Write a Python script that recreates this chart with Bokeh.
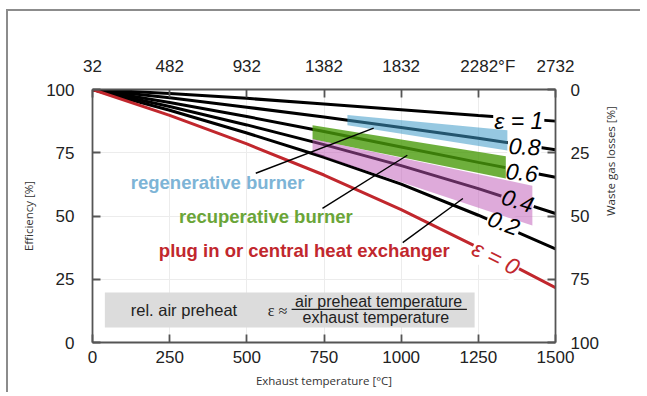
import math
from bokeh.plotting import figure
from bokeh.models import (Range1d, LinearAxis, FixedTicker, ColumnDataSource)
from bokeh.embed import file_html
from bokeh.resources import INLINE
from bokeh.core.properties import value

# ---------------- data ----------------
temp_c = [0, 250, 500, 750, 1000, 1250, 1500]
eff_eps_10 = [100, 98.4, 96.5, 94.3, 92.0, 89.7, 87.5]
eff_eps_08 = [100, 96.7, 93.0, 89.1, 85.0, 80.7, 76.2]
eff_eps_06 = [100, 94.9, 89.3, 83.4, 77.3, 71.2, 65.3]
eff_eps_04 = [100, 93.3, 86.0, 78.2, 69.9, 60.8, 51.0]
eff_eps_02 = [100, 91.8, 82.8, 73.2, 62.6, 50.3, 37.0]
eff_eps_00 = [100, 89.8, 78.5, 66.2, 52.5, 37.5, 21.7]

curve_labels = ["ε = 1", "0.8", "0.6", "0.4", "0.2", "ε = 0"]
curve_label_x = [1381, 1400, 1391, 1378, 1333, 1307]
curve_label_y = [87.5, 77.6, 67.3, 56.2, 47.4, 33.5]
curve_label_angle = [0.0, -0.06, -0.1, -0.3, -0.35, -0.46]

# burner ranges (bands)
band_names = ["regenerative burner", "recuperative burner",
              "plug in or central heat exchanger"]
band_x0 = [826, 713, 713]
band_x1 = [1344, 1339, 1425]
band_top0 = [89.9, 85.9, 80.4]
band_bot0 = [85.9, 80.3, 75.0]
band_top1 = [83.9, 73.6, 62.0]
band_bot1 = [75.9, 64.8, 46.2]

xticks_c = [0, 250, 500, 750, 1000, 1250, 1500]
xticks_f = [32, 482, 932, 1382, 1832, 2282, 2732]
yticks = [0, 25, 50, 75, 100]

# ---------------- figure ----------------
p = figure(width=634, height=383, x_range=Range1d(0, 1500), y_range=Range1d(0, 100),
           output_backend="svg", toolbar_location=None,
           min_border_left=84, min_border_right=87, min_border_top=78,
           min_border_bottom=52)
p.styles = {"margin-left": "6px", "margin-top": "9px",
            "border-top": "2px solid #8c8c8c", "border-left": "2px solid #8c8c8c"}
p.outline_line_color = None
p.background_fill_color = "white"
p.extra_x_ranges = {"f": Range1d(32, 2732)}
p.extra_y_ranges = {"w": Range1d(100, 0)}

bottom_axis = p.xaxis[0]
left_axis = p.yaxis[0]
bottom_axis.ticker = FixedTicker(ticks=xticks_c)
left_axis.ticker = FixedTicker(ticks=yticks)
bottom_axis.axis_label = "Exhaust temperature [°C]"
left_axis.axis_label = "Efficiency [%]"
p.xgrid.ticker = FixedTicker(ticks=xticks_c)
p.ygrid.ticker = FixedTicker(ticks=yticks)
p.grid.grid_line_color = "#ececec"

top_axis = LinearAxis(x_range_name="f", ticker=FixedTicker(ticks=xticks_f))
top_axis.major_label_overrides = {2282: "\u2007\u20072282°F"}
right_axis = LinearAxis(y_range_name="w", ticker=FixedTicker(ticks=yticks),
                        axis_label="Waste gas losses [%]")
if "axis_label_orientation" in right_axis.properties():
    right_axis.axis_label_orientation = math.pi / 2
p.add_layout(top_axis, "above")
p.add_layout(right_axis, "right")

for ax in [bottom_axis, left_axis, top_axis, right_axis]:
    ax.major_tick_in = 8
    ax.major_tick_out = 0
    ax.minor_tick_line_color = None
    ax.axis_line_color = "#555555"
    ax.axis_line_width = 1.8
    ax.major_tick_line_color = "#555555"
    ax.major_tick_line_width = 1.8
    ax.major_label_text_font = "Liberation Sans"
    ax.major_label_text_font_size = "17px"
    ax.major_label_text_color = "#222222"
    ax.axis_label_text_font = "Open Sans"
    ax.axis_label_text_font_size = "11.5px"
    ax.axis_label_text_font_style = "normal"
    ax.axis_label_text_color = "#333333"

left_axis.major_label_standoff = 18
left_axis.axis_label_standoff = 7
bottom_axis.major_label_standoff = 8
bottom_axis.axis_label_standoff = 7
top_axis.major_label_standoff = 14
right_axis.major_label_standoff = 15
right_axis.axis_label_standoff = 9

# ---------------- curves ----------------
curves = [eff_eps_10, eff_eps_08, eff_eps_06, eff_eps_04, eff_eps_02, eff_eps_00]
colors = ["black"] * 5 + ["#c1272d"]
for eff, col in zip(curves, colors):
    p.line(temp_c, eff, line_color=col, line_width=3)

lab_src = ColumnDataSource(dict(x=curve_label_x, y=curve_label_y, text=curve_labels,
                                angle=curve_label_angle,
                                color=["black"] * 5 + ["#c1272d"]))
# white gaps in the lines behind the labels
p.text(x="x", y="y", text="text", angle="angle", source=lab_src,
       text_font=value("Liberation Sans"), text_font_style="italic",
       text_font_size="23px", text_align="center", text_baseline="middle",
       text_alpha=0, background_fill_color="white", padding=1)

# ---------------- bands ----------------
band_colors = ["#409bc8", "#4a9b0b", "#be55b5"]
band_alphas = [0.55, 0.8, 0.5]
for i in range(3):
    xs = [band_x0[i], band_x1[i], band_x1[i], band_x0[i]]
    ys = [band_top0[i], band_top1[i], band_bot1[i], band_bot0[i]]
    p.patch(xs, ys, fill_color=band_colors[i], fill_alpha=band_alphas[i], line_color=None)

p.text(x="x", y="y", text="text", angle="angle", color="color", source=lab_src,
       text_font=value("Liberation Sans"), text_font_style="italic",
       text_font_size="23px", text_align="center", text_baseline="middle")

# ---------------- category labels and leaders ----------------
cat_x = [124, 280, 215]
cat_y = [63.1, 49.8, 36.3]
cat_colors = ["#7db4d6", "#6aa538", "#c1272d"]
p.text(x=cat_x, y=cat_y, text=band_names, text_color=cat_colors,
       text_font=value("Liberation Sans"), text_font_style="bold",
       text_font_size="18.5px", text_align="left", text_baseline="middle")

lead_x0 = [529, 745, 1005]
lead_y0 = [66.9, 53.0, 39.5]
lead_x1 = [911, 1020, 1200]
lead_y1 = [84.7, 74.0, 56.9]
p.segment(x0=lead_x0, y0=lead_y0, x1=lead_x1, y1=lead_y1, line_color="black",
          line_width=1.4)

# ---------------- formula box ----------------
p.quad(left=[40], right=[1238], bottom=[5.9], top=[19.8],
       fill_color="#dcdcdc", line_color=None)
p.text(x=[124], y=[12.7], text=["rel. air preheat"], text_font=value("Liberation Sans"),
       text_font_size="16.5px", text_color="#222222", text_align="left",
       text_baseline="middle")
p.text(x=[568], y=[12.7], text=["ε ≈"], text_font=value("Liberation Serif"),
       text_font_size="16px", text_color="#222222", text_align="left",
       text_baseline="middle")
p.text(x=[927, 918], y=[16.3, 9.9], text=["air preheat temperature", "exhaust temperature"],
       text_font=value("Liberation Sans"), text_font_size="16px", text_color="#222222",
       text_align="center", text_baseline="middle")
p.segment(x0=[645], y0=[13.1], x1=[1213], y1=[13.1], line_color="#222222", line_width=1.2)

open("out.html", "w").write(file_html(p, INLINE))
